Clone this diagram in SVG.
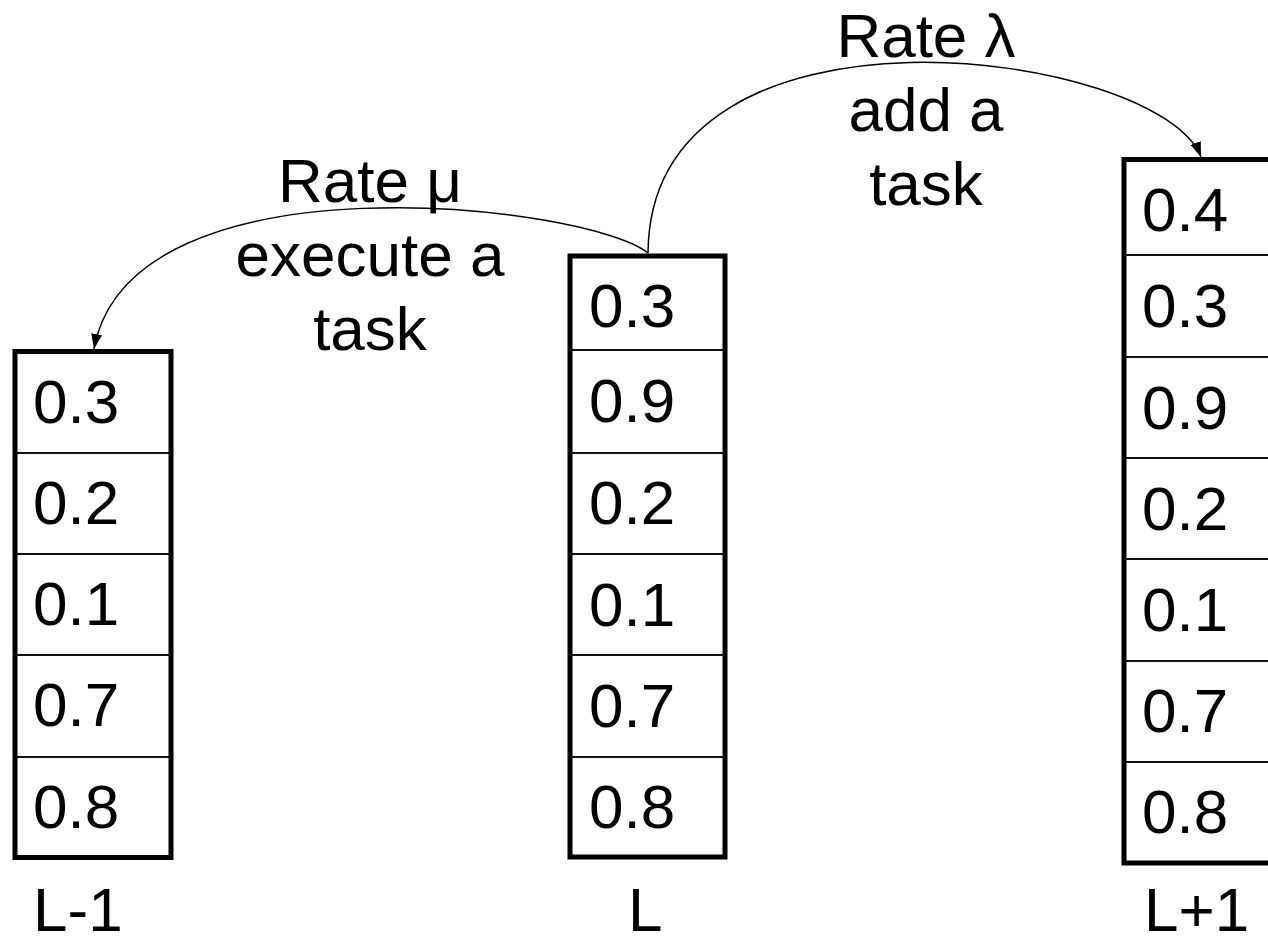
<svg xmlns="http://www.w3.org/2000/svg" width="1268" height="939" viewBox="0 0 1268 939">
<style>
text{font-family:"Liberation Sans",Arial,sans-serif;font-size:62px;fill:#000}
.lbl{text-anchor:middle}
.box{fill:#fff;stroke:#000;stroke-width:5}
.div{stroke:#111;stroke-width:2}
.arc{fill:none;stroke:#000;stroke-width:1.5}
</style>
<defs>
<marker id="ah" viewBox="0 0 15 11" refX="15" refY="5.5" markerWidth="15" markerHeight="11" markerUnits="userSpaceOnUse" orient="auto">
<path d="M0,0 L15,5.5 L0,11 Z" fill="#000"/>
</marker>
</defs>
<rect width="1268" height="939" fill="#fff"/>
<g id="connectors">
<path class="arc" d="M648 253 C590 205 130 150 94 349" marker-end="url(#ah)"/>
<path class="arc" d="M648 253 C650 -20 1160 50 1201 157" marker-end="url(#ah)"/>
</g>
<g id="label-mu">
<text class="lbl" x="370" y="202">Rate μ</text>
<text class="lbl" x="370" y="276">execute a</text>
<text class="lbl" x="370" y="350">task</text>
</g>
<g id="label-lambda">
<text class="lbl" x="926" y="57">Rate λ</text>
<text class="lbl" x="926" y="131">add a</text>
<text class="lbl" x="926" y="205">task</text>
</g>
<g id="stack-Lminus1">
<rect class="box" x="15" y="351.5" width="156" height="506"/>
<line class="div" x1="15" y1="453" x2="171" y2="453"/>
<line class="div" x1="15" y1="554" x2="171" y2="554"/>
<line class="div" x1="15" y1="655" x2="171" y2="655"/>
<line class="div" x1="15" y1="757" x2="171" y2="757"/>
<text x="33" y="423">0.3</text>
<text x="33" y="524">0.2</text>
<text x="33" y="625">0.1</text>
<text x="33" y="726">0.7</text>
<text x="33" y="828">0.8</text>
<text x="33" y="931">L-1</text>
</g>
<g id="stack-L">
<rect class="box" x="570" y="256" width="155" height="601"/>
<line class="div" x1="570" y1="350" x2="725" y2="350"/>
<line class="div" x1="570" y1="453" x2="725" y2="453"/>
<line class="div" x1="570" y1="554" x2="725" y2="554"/>
<line class="div" x1="570" y1="655" x2="725" y2="655"/>
<line class="div" x1="570" y1="757" x2="725" y2="757"/>
<text x="589" y="327">0.3</text>
<text x="589" y="422">0.9</text>
<text x="589" y="524">0.2</text>
<text x="589" y="626">0.1</text>
<text x="589" y="727">0.7</text>
<text x="589" y="828">0.8</text>
<text x="628" y="931">L</text>
</g>
<g id="stack-Lplus1">
<rect class="box" x="1124" y="159.5" width="156" height="703.5"/>
<line class="div" x1="1124" y1="255" x2="1280" y2="255"/>
<line class="div" x1="1124" y1="357" x2="1280" y2="357"/>
<line class="div" x1="1124" y1="458" x2="1280" y2="458"/>
<line class="div" x1="1124" y1="559" x2="1280" y2="559"/>
<line class="div" x1="1124" y1="661" x2="1280" y2="661"/>
<line class="div" x1="1124" y1="762" x2="1280" y2="762"/>
<text x="1142" y="231">0.4</text>
<text x="1142" y="327">0.3</text>
<text x="1142" y="429">0.9</text>
<text x="1142" y="530">0.2</text>
<text x="1142" y="631">0.1</text>
<text x="1142" y="732">0.7</text>
<text x="1142" y="833">0.8</text>
<text x="1144" y="931">L+1</text>
</g>
</svg>
